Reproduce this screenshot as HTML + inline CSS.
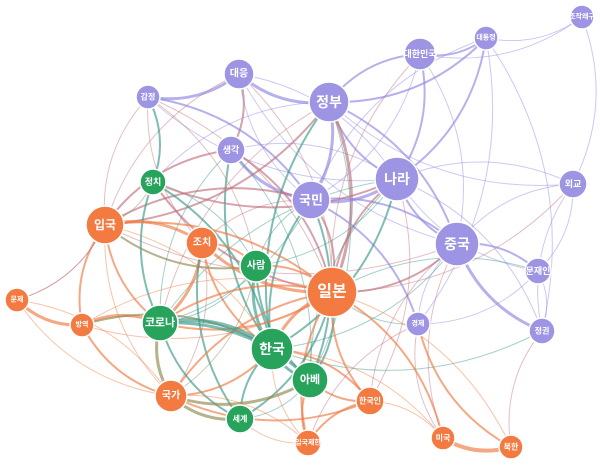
<!DOCTYPE html>
<html><head><meta charset="utf-8"><style>
html,body{margin:0;padding:0;background:#fff;width:600px;height:466px;overflow:hidden}
svg{display:block}
text{font-family:"Liberation Sans","Noto Sans CJK KR",sans-serif;fill:#fff;text-anchor:middle;dominant-baseline:central;font-weight:bold}
</style></head><body>
<svg id="g" width="600" height="466" viewBox="0 0 600 466">
<g id="edges" fill="none"></g>
<g id="nodes" stroke="#fff" stroke-width="1.5">
<circle cx="239" cy="74" r="15" fill="#9d95e3"/>
<circle cx="148" cy="97" r="12" fill="#9d95e3"/>
<circle cx="231" cy="150" r="14" fill="#9d95e3"/>
<circle cx="329" cy="102" r="20" fill="#9d95e3"/>
<circle cx="420" cy="54" r="16" fill="#9d95e3"/>
<circle cx="486" cy="38" r="12" fill="#9d95e3"/>
<circle cx="582" cy="17" r="12" fill="#9d95e3"/>
<circle cx="311" cy="200" r="19" fill="#9d95e3"/>
<circle cx="397" cy="179" r="22" fill="#9d95e3"/>
<circle cx="573" cy="184" r="14" fill="#9d95e3"/>
<circle cx="457" cy="244" r="22" fill="#9d95e3"/>
<circle cx="538" cy="271" r="13" fill="#9d95e3"/>
<circle cx="542" cy="331" r="13" fill="#9d95e3"/>
<circle cx="418" cy="324" r="12" fill="#9d95e3"/>
<circle cx="153" cy="182" r="13" fill="#27a35c"/>
<circle cx="256" cy="266" r="16" fill="#27a35c"/>
<circle cx="160" cy="323" r="18" fill="#27a35c"/>
<circle cx="272" cy="349" r="21" fill="#27a35c"/>
<circle cx="310" cy="380" r="18" fill="#27a35c"/>
<circle cx="240" cy="419" r="14" fill="#27a35c"/>
<circle cx="105" cy="225" r="19" fill="#f37a41"/>
<circle cx="202" cy="243" r="16" fill="#f37a41"/>
<circle cx="332" cy="292" r="25" fill="#f37a41"/>
<circle cx="17" cy="300" r="12" fill="#f37a41"/>
<circle cx="82" cy="325" r="12" fill="#f37a41"/>
<circle cx="171" cy="396" r="16" fill="#f37a41"/>
<circle cx="370" cy="401" r="14" fill="#f37a41"/>
<circle cx="308" cy="443" r="13" fill="#f37a41"/>
<circle cx="443" cy="438" r="12" fill="#f37a41"/>
<circle cx="511" cy="447" r="12" fill="#f37a41"/>
</g>
<g id="labels">
<text x="239" y="74" font-size="10">대응</text>
<text x="148" y="97" font-size="8">감정</text>
<text x="231" y="150" font-size="9">생각</text>
<text x="329" y="102" font-size="14">정부</text>
<text x="420" y="54" font-size="9">대한민국</text>
<text x="486" y="38" font-size="7">대통령</text>
<text x="582" y="17" font-size="7">조작왜구</text>
<text x="311" y="200" font-size="13">국민</text>
<text x="397" y="179" font-size="14">나라</text>
<text x="573" y="184" font-size="9">외교</text>
<text x="457" y="244" font-size="14">중국</text>
<text x="538" y="271" font-size="9">문재인</text>
<text x="542" y="331" font-size="8">정권</text>
<text x="418" y="324" font-size="7">경제</text>
<text x="153" y="182" font-size="9">정치</text>
<text x="256" y="266" font-size="10">사람</text>
<text x="160" y="323" font-size="11">코로나</text>
<text x="272" y="349" font-size="14">한국</text>
<text x="310" y="380" font-size="11">아베</text>
<text x="240" y="419" font-size="8">세계</text>
<text x="105" y="225" font-size="12">입국</text>
<text x="202" y="243" font-size="10">조치</text>
<text x="332" y="292" font-size="16">일본</text>
<text x="17" y="300" font-size="7">문제</text>
<text x="82" y="325" font-size="7">방역</text>
<text x="171" y="396" font-size="10">국가</text>
<text x="370" y="401" font-size="8">한국인</text>
<text x="308" y="443" font-size="7">입국제한</text>
<text x="443" y="438" font-size="8">미국</text>
<text x="511" y="447" font-size="8">북한</text>
</g>
</svg>
<script>
var N={대응:[239,74],감정:[148,97],생각:[231,150],정부:[329,102],대한민국:[420,54],대통령:[486,38],조작:[582,17],국민:[311,200],나라:[397,179],외교:[573,184],중국:[457,244],문재인:[538,271],정권:[542,331],경제:[418,324],정치:[153,182],사람:[256,266],코로나:[160,323],한국:[272,349],아베:[310,380],세계:[240,419],입국:[105,225],조치:[202,243],일본:[332,292],문제:[17,300],방역:[82,325],국가:[171,396],한국인:[370,401],입국제한:[308,443],미국:[443,438],북한:[511,447]};
var P="#8f87e3",R="#c0707e",T="#3a9a8a",O="#f07a42",L="#8e8b4e";
var E=[
["대응","감정",P,3],["대응","정부",P,3],["대응","생각",R,2],["대응","국민",P,1],["대응","나라",P,1],["대응","입국",R,1],["대응","일본",R,1],["대응","중국",P,1],
["감정","정치",T,2],["감정","입국",R,1],["감정","국민",P,2],["감정","나라",P,1],["감정","일본",R,1],["감정","조치",R,1],["감정","사람",R,1],
["생각","국민",P,3],["생각","일본",R,2],["생각","한국",T,2],["생각","나라",P,1],["생각","코로나",T,1],["생각","아베",T,1],["생각","입국",R,2],
["정부","대한민국",P,2],["정부","대통령",P,2],["정부","국민",P,3],["정부","나라",P,2],["정부","일본",R,3],["정부","한국",T,2],["정부","중국",P,2],["정부","외교",P,1],["정부","입국",R,2],["정부","코로나",R,1],["정부","아베",T,1],["정부","정치",P,1],
["대한민국","나라",P,2],["대한민국","대통령",P,2],["대한민국","국민",P,1],["대한민국","일본",R,1],["대한민국","중국",P,1],["대한민국","조작",P,1],
["대통령","나라",P,2],["대통령","조작",P,1],["대통령","정권",P,1],["대통령","국민",P,1],["대통령","경제",P,1],
["국민","나라",P,3],["국민","일본",R,2],["국민","한국",T,2],["국민","중국",P,2],["국민","입국",R,2],["국민","코로나",T,1],["국민","사람",T,1],["국민","아베",T,2],["국민","조치",R,1],["국민","경제",P,2],
["나라","중국",P,2],["나라","외교",P,1],["나라","일본",R,2],["나라","한국",T,2],["나라","문재인",P,1],["나라","정권",P,1],["나라","아베",T,1],["나라","사람",T,1],["나라","코로나",T,1],["나라","한국인",R,1],
["외교","중국",P,1],["외교","문재인",P,1],["외교","정권",P,1],["외교","일본",R,1],["외교","조작",P,1],
["중국","문재인",P,2],["중국","정권",P,3],["중국","일본",R,2],["중국","미국",R,1],["중국","한국",T,1],["중국","경제",P,1],["중국","입국",R,1],["중국","한국인",R,1],
["문재인","정권",P,1],["문재인","일본",T,1],["문재인","경제",P,1],["정권","북한",R,1],["정권","한국",T,1],["경제","북한",O,2],["경제","일본",T,1],["경제","미국",R,1],
["정치","입국",L,1],["정치","코로나",T,2],["정치","한국",T,2],["정치","일본",R,2],["정치","사람",T,1],["정치","나라",R,2],
["입국","조치",O,3],["입국","방역",O,2],["입국","문제",R,1],["입국","코로나",O,2],["입국","일본",O,2],["입국","사람",L,2],["입국","한국",O,1],["입국","국가",O,1],
["조치","코로나",O,3],["조치","일본",O,3],["조치","사람",O,2],["조치","한국",O,2],["조치","국가",R,1],["조치","세계",T,2],
["사람","일본",O,2],["사람","한국",T,3],["사람","코로나",T,1],["사람","아베",T,2],["사람","국가",L,1],
["일본","한국",O,3],["일본","아베",T,2],["일본","한국인",O,2],["일본","미국",O,2],["일본","입국제한",O,2],["일본","코로나",O,2],["일본","국가",O,2],["일본","세계",T,2],["일본","방역",O,1],["일본","북한",O,1],
["문제","방역",O,3],["문제","국가",O,1],["문제","입국",R,1],
["방역","코로나",O,3],["방역","국가",O,2],["방역","한국",L,2],["방역","일본",O,1],
["코로나","한국",T,4],["코로나","국가",L,3],["코로나","아베",T,3],["코로나","세계",T,2],["코로나","일본",O,2],
["한국","아베",T,3],["한국","국가",O,2],["한국","세계",T,2],["한국","한국인",O,2],["한국","입국제한",O,1],["한국","미국",O,1],
["아베","한국인",O,2],["아베","국가",L,3],["아베","입국제한",O,2],["아베","세계",T,1],
["국가","세계",L,3],["국가","입국제한",O,1],["국가","한국인",O,2],["국가","문제",O,1],
["한국인","입국제한",O,2],["한국인","미국",O,1],["미국","북한",O,4],["입국제한","경제",R,1],["세계","입국제한",O,1]
];
var g=document.getElementById("edges"),s="";
E.forEach(function(e,i){var a=N[e[0]],b=N[e[1]];if(!a||!b)return;
var mx=(a[0]+b[0])/2,my=(a[1]+b[1])/2,dx=b[0]-a[0],dy=b[1]-a[1];var k=(i%2?0.22:-0.22);
var cx=mx-dy*k,cy=my+dx*k;
s+='<path d="M'+a[0]+' '+a[1]+' Q'+cx+' '+cy+' '+b[0]+' '+b[1]+'" stroke="'+e[2]+'" stroke-width="'+e[3]+'" stroke-opacity="'+(e[3]>1?0.65:0.45)+'"/>';});
g.innerHTML=s;
</script>
</body></html>
